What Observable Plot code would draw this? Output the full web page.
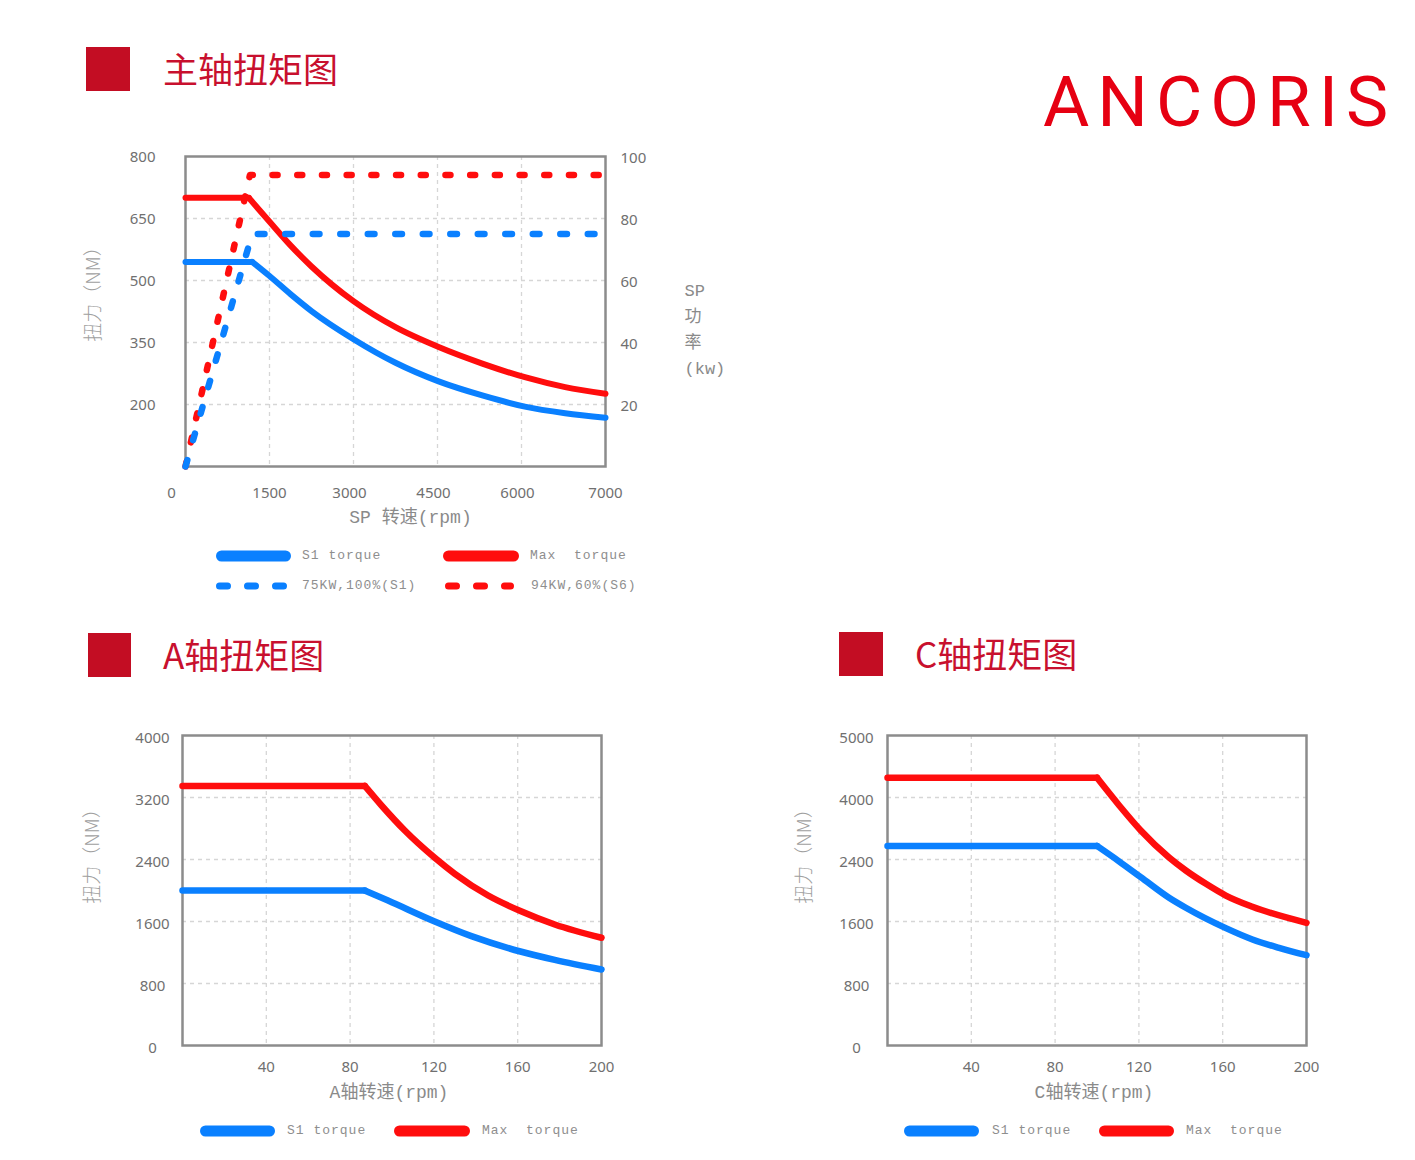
<!DOCTYPE html>
<html><head><meta charset="utf-8">
<script src="https://cdn.jsdelivr.net/npm/d3@7"></script>
<script src="https://cdn.jsdelivr.net/npm/@observablehq/plot@0.6"></script>
<style>
body{margin:0;background:#fff}
#page{position:relative;width:1415px;height:1160px;overflow:hidden;background:#fff}
.sq{position:absolute;background:#c30d23}
.ht{position:absolute;font-family:"Noto Sans CJK SC",sans-serif;font-weight:400;font-size:35px;line-height:35px;color:#c8102e;white-space:nowrap}
.brand{position:absolute;font-family:Roboto,sans-serif;font-weight:400;font-size:71px;line-height:71px;letter-spacing:8px;color:#e60012;white-space:nowrap}
.lg{position:absolute;font-family:"Liberation Mono","Noto Sans CJK SC",monospace;font-size:13px;letter-spacing:1px;color:#8e8e8e;white-space:pre;line-height:16px}
.chart{position:absolute}
</style></head>
<body><div id="page"></div>
<script>
// ---------------- data ----------------
// Spindle (主轴)
const SP_X_TICKS = [0, 1500, 3000, 4500, 6000, 7000];
const SP_TORQUE_TICKS = [200, 350, 500, 650, 800];
const SP_POWER_TICKS = [20, 40, 60, 80, 100];
const SP_TORQUE_DOMAIN = [50, 800];
const SP_POWER_DOMAIN = [0, 100];
const spS1Rpm = [0, 1190, 1490, 1875, 2250, 3000, 3750, 4520, 5300, 6040, 6520, 7000];
const spS1Torque = [545, 545, 512, 467, 426, 358, 301, 256, 222, 195, 179, 168];
const spMaxRpm = [0, 1130, 1490, 1875, 2250, 3000, 3750, 4520, 5300, 6040, 6520, 7000];
const spMaxTorque = [700, 700, 644, 585, 534, 450, 387, 339, 299, 266, 242, 226];
const spS1PowerRpm = [0, 1190, 7000];
const spS1PowerKw = [0, 75, 75];
const spS6PowerRpm = [0, 1150, 7000];
const spS6PowerKw = [0, 94, 94];

// A axis
const A_X_TICKS = [40, 80, 120, 160, 200];
const A_Y_TICKS = [0, 800, 1600, 2400, 3200, 4000];
const aS1Rpm = [0, 87, 98.1, 120.4, 137.9, 161.3, 177.7, 200];
const aS1Torque = [2000, 2000, 1870, 1600, 1411, 1213, 1105, 981];
const aMaxRpm = [0, 87, 95, 106.1, 120.4, 130, 145.9, 161.3, 177.7, 200];
const aMaxTorque = [3350, 3350, 3097, 2774, 2422, 2215, 1935, 1735, 1561, 1390];

// C axis
const C_X_TICKS = [40, 80, 120, 160, 200];
const C_Y_TICKS = [0, 800, 1600, 2400, 4000, 5000];
const cS1Rpm = [0, 100, 110.5, 120.9, 134.4, 142.4, 161.5, 174.2, 186.9, 200];
const cS1Torque = [2750, 2750, 2377, 2172, 1906, 1777, 1514, 1368, 1260, 1165];
const cMaxRpm = [0, 100, 110.5, 120.9, 134.4, 142.4, 152, 161.5, 174.2, 200];
const cMaxTorque = [4318, 4318, 3801, 3149, 2451, 2258, 2086, 1935, 1790, 1583];

// texts
const TITLE_SP = "主轴扭矩图", TITLE_A = "A轴扭矩图", TITLE_C = "C轴扭矩图";
const BRAND = "ANCORIS";
const Y_TITLE = "扭力（NM）";
const X_TITLE_SP = "SP 转速(rpm)", X_TITLE_A = "A轴转速(rpm)", X_TITLE_C = "C轴转速(rpm)";
const Y2_TITLE_SP = "SP\n功\n率\n(kw)";
const LEG_S1 = "S1 torque", LEG_MAX = "Max  torque", LEG_P1 = "75KW,100%(S1)", LEG_P6 = "94KW,60%(S6)";

// ---------------- style ----------------
const BLUE = "#0a80ff", RED = "#ff0d0d";
const TICK_FONT = "Noto Sans, sans-serif";
const MONO = "Liberation Mono, Noto Sans CJK SC, monospace";
const CJK = "Noto Sans CJK SC, sans-serif";
const GRID = {stroke: "#d6d6d6", strokeOpacity: 1, strokeDasharray: "4,4", strokeWidth: 1.3};
const FRAME = {stroke: "#8c8c8c", strokeWidth: 2.5};
const TICK = {tickSize: 0, fontSize: 15, fontFamily: TICK_FONT, fill: "#707070", label: null, tickFormat: d => String(d)};
const YTITLE = {frameAnchor: "left", rotate: -90, textAnchor: "middle", lineAnchor: "middle", fontSize: 19, fontFamily: CJK, fontWeight: 300, fill: "#a0a0a0"};

const page = document.getElementById("page");
function el(tag, cls, style, text) {
  const e = document.createElement(tag);
  if (cls) e.className = cls;
  Object.assign(e.style, style);
  if (text != null) e.textContent = text;
  page.appendChild(e);
  return e;
}
const rows = (rpm, v) => rpm.map((r, i) => ({rpm: r, v: v[i]}));
function torqueMarks(rpm, torque, color, w) {
  const d = rows(rpm, torque);
  const o = {x: "rpm", y: "v", stroke: color, strokeWidth: w, strokeLinecap: "round", strokeLinejoin: "round"};
  return [Plot.line(d.slice(0, 2), o), Plot.line(d.slice(1), {...o, curve: d3.curveMonotoneX})];
}

// ---------------- headings ----------------
el("div", "sq", {left: "86px", top: "47px", width: "44px", height: "44px"});
el("div", "ht", {left: "163px", top: "50px"}, TITLE_SP);
el("div", "sq", {left: "88px", top: "633px", width: "43px", height: "44px"});
el("div", "ht", {left: "163px", top: "636px"}, TITLE_A);
el("div", "sq", {left: "839px", top: "632px", width: "44px", height: "44px"});
el("div", "ht", {left: "915px", top: "635px"}, TITLE_C);
el("div", "brand", {left: "1043px", top: "66px"}, BRAND);

// ---------------- spindle chart ----------------
{
  const W = 670, H = 400, m = {top: 16, right: 145, bottom: 74, left: 105};
  const t0 = SP_TORQUE_DOMAIN, p0 = SP_POWER_DOMAIN;
  const kwToNm = k => t0[0] + (k - p0[0]) * (t0[1] - t0[0]) / (p0[1] - p0[0]);
  const nmToKw = t => p0[0] + (t - t0[0]) * (p0[1] - p0[0]) / (t0[1] - t0[0]);
  const power = (rpm, kw, color, dash) => Plot.line(rows(rpm, kw), {
    x: "rpm", y: d => kwToNm(d.v), stroke: color, strokeWidth: 6.5,
    strokeDasharray: dash, strokeLinecap: "round", strokeLinejoin: "round"
  });
  const chart = Plot.plot({
    width: W, height: H,
    marginTop: m.top, marginRight: m.right, marginBottom: m.bottom, marginLeft: m.left,
    x: {type: "linear", domain: SP_X_TICKS, label: null},   // piecewise: ticks evenly spread
    y: {type: "linear", domain: SP_TORQUE_DOMAIN, label: null},
    style: {background: "transparent", overflow: "visible"},
    marks: [
      Plot.gridX(SP_X_TICKS.slice(1, -1), GRID),
      Plot.gridY(SP_TORQUE_TICKS.slice(0, -1), GRID),
      Plot.frame(FRAME),
      ...torqueMarks(spMaxRpm, spMaxTorque, RED, 6),
      ...torqueMarks(spS1Rpm, spS1Torque, BLUE, 6),
      power(spS6PowerRpm, spS6PowerKw, RED, "5,19.7"),
      power(spS1PowerRpm, spS1PowerKw, BLUE, "6.7,20.8"),
      Plot.axisY(SP_TORQUE_TICKS, {...TICK, anchor: "left", tickPadding: 30, dy: 1}),
      Plot.axisY(SP_POWER_TICKS.map(kwToNm), {...TICK, anchor: "right", tickPadding: 15, dy: 2, tickFormat: t => String(Math.round(nmToKw(t)))}),
      Plot.axisX(SP_X_TICKS.slice(1, 2), {...TICK, anchor: "bottom", tickPadding: 21}),
      Plot.axisX(SP_X_TICKS.slice(2, -1), {...TICK, anchor: "bottom", tickPadding: 21, dx: -4}),
      Plot.axisX(SP_X_TICKS.slice(-1), {...TICK, anchor: "bottom", tickPadding: 21}),
      Plot.axisX(SP_X_TICKS.slice(0, 1), {...TICK, anchor: "bottom", tickPadding: 21, dx: -14}),
      Plot.text([X_TITLE_SP], {frameAnchor: "bottom", dx: 15, dy: 51, textAnchor: "middle", lineAnchor: "middle", fontSize: 18, fontFamily: MONO, fill: "#8a8a8a"}),
      Plot.text([Y_TITLE], {...YTITLE, dx: -92, dy: -22}),
      Plot.text([Y2_TITLE_SP], {frameAnchor: "right", dx: 79, dy: 15, textAnchor: "start", lineAnchor: "middle", lineHeight: 1.52, fontSize: 17, fontFamily: MONO, fill: "#8a8a8a"})
    ]
  });
  chart.classList.add("chart");
  Object.assign(chart.style, {left: "80px", top: "140px"});
  page.appendChild(chart);
}

// ---------------- A & C charts ----------------
function axisChart(o) {
  const W = 570, H = 395, m = o.margin;
  const chart = Plot.plot({
    width: W, height: H,
    marginTop: m.top, marginRight: m.right, marginBottom: m.bottom, marginLeft: m.left,
    x: {type: "linear", domain: [0, 200], label: null},
    y: {type: "linear", domain: o.yTicks, label: null},   // piecewise when tick gaps differ
    style: {background: "transparent", overflow: "visible"},
    marks: [
      Plot.gridX(o.xTicks.slice(0, -1), GRID),
      Plot.gridY(o.yTicks.slice(1, -1), GRID),
      Plot.frame(FRAME),
      ...torqueMarks(o.maxRpm, o.maxTorque, RED, 6.5),
      ...torqueMarks(o.s1Rpm, o.s1Torque, BLUE, 6.5),
      Plot.axisY(o.yTicks, {...TICK, anchor: "left", tickPadding: o.yPad, textAnchor: "middle", dy: 3}),
      Plot.axisX(o.xTicks, {...TICK, anchor: "bottom", tickPadding: 16}),
      Plot.text([o.xTitle], {frameAnchor: "bottom", dx: -3, dy: 47, textAnchor: "middle", lineAnchor: "middle", fontSize: 18, fontFamily: MONO, fill: "#8a8a8a"}),
      Plot.text([Y_TITLE], {...YTITLE, dx: o.yTitleDx, dy: -39})
    ]
  });
  chart.classList.add("chart");
  Object.assign(chart.style, {left: o.left + "px", top: o.top + "px"});
  page.appendChild(chart);
}
axisChart({left: 60, top: 720, margin: {top: 15, right: 29, bottom: 70, left: 122},
  xTicks: A_X_TICKS, yTicks: A_Y_TICKS, s1Rpm: aS1Rpm, s1Torque: aS1Torque, maxRpm: aMaxRpm, maxTorque: aMaxTorque,
  xTitle: X_TITLE_A, yPad: 30, yTitleDx: -90});
axisChart({left: 770, top: 720, margin: {top: 15, right: 34, bottom: 70, left: 117},
  xTicks: C_X_TICKS, yTicks: C_Y_TICKS, s1Rpm: cS1Rpm, s1Torque: cS1Torque, maxRpm: cMaxRpm, maxTorque: cMaxTorque,
  xTitle: X_TITLE_C, yPad: 31, yTitleDx: -83});

// ---------------- legends ----------------
const NS = "http://www.w3.org/2000/svg";
function swatch(x1, x2, y, color, dashed) {
  const w = dashed ? 7 : 11;
  const s = document.createElementNS(NS, "svg");
  s.setAttribute("width", x2 - x1); s.setAttribute("height", 14);
  Object.assign(s.style, {position: "absolute", left: x1 + "px", top: (y - 7) + "px"});
  const l = document.createElementNS(NS, "line");
  l.setAttribute("x1", w / 2); l.setAttribute("x2", x2 - x1 - w / 2);
  l.setAttribute("y1", 7); l.setAttribute("y2", 7);
  l.setAttribute("stroke", color); l.setAttribute("stroke-width", w);
  l.setAttribute("stroke-linecap", "round");
  if (dashed) l.setAttribute("stroke-dasharray", "8 20");
  s.appendChild(l); page.appendChild(s);
}
function legendItem(x1, x2, tx, y, color, dashed, label) {
  swatch(x1, x2, y, color, dashed);
  el("div", "lg", {left: tx + "px", top: (y - 8) + "px"}, label);
}
legendItem(216, 291, 302, 556, BLUE, false, LEG_S1);
legendItem(443, 519, 530, 556, RED, false, LEG_MAX);
legendItem(216, 287, 302, 586, BLUE, true, LEG_P1);
legendItem(445, 514, 531, 586, RED, true, LEG_P6);
legendItem(200, 275, 287, 1131, BLUE, false, LEG_S1);
legendItem(394, 470, 482, 1131, RED, false, LEG_MAX);
legendItem(904, 979, 992, 1131, BLUE, false, LEG_S1);
legendItem(1099, 1174, 1186, 1131, RED, false, LEG_MAX);
</script></body></html>
